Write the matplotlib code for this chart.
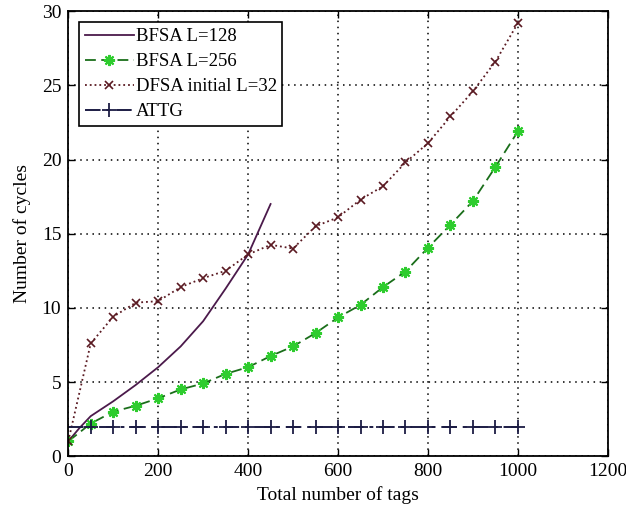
import matplotlib
matplotlib.use("Agg")
import matplotlib.pyplot as plt
import numpy as np

plt.rcParams['font.family'] = ['Liberation Serif', 'DejaVu Serif']

# BFSA L=128 (solid, no markers)
x128 = [0, 25, 50, 100, 150, 200, 250, 300, 350, 400, 450]
y128 = [1.0, 1.9, 2.7, 3.7, 4.8, 6.0, 7.4, 9.1, 11.3, 13.6, 17.0]

# BFSA L=256
x256 = [0, 50, 100, 150, 200, 250, 300, 350, 400, 450, 500, 550, 600, 650, 700, 750, 800, 850, 900, 950, 1000]
y256 = [1.0, 2.2, 3.0, 3.4, 3.9, 4.5, 4.9, 5.55, 6.0, 6.75, 7.4, 8.3, 9.35, 10.2, 11.4, 12.45, 14.05, 15.6, 17.2, 19.5, 21.9]

# DFSA initial L=32
xd = [0, 50, 100, 150, 200, 250, 300, 350, 400, 450, 500, 550, 600, 650, 700, 750, 800, 850, 900, 950, 1000]
yd = [1.0, 7.6, 9.4, 10.35, 10.45, 11.4, 12.0, 12.5, 13.6, 14.25, 14.0, 15.5, 16.1, 17.3, 18.2, 19.8, 21.1, 22.9, 24.6, 26.6, 29.2]

# ATTG
xa = [0, 50, 100, 150, 200, 250, 300, 350, 400, 450, 500, 550, 600, 650, 700, 750, 800, 850, 900, 950, 1000]
ya = [2.0] * len(xa)

xticks = [0, 200, 400, 600, 800, 1000, 1200]
yticks = [0, 5, 10, 15, 20, 25, 30]

fig = plt.figure(figsize=(6.26, 5.08), dpi=100)
ax = fig.add_axes([0.109, 0.102, 0.862, 0.876])

ax.plot(x128, y128, '-', color='#4b1a4b', lw=1.3, label='BFSA L=128')
ax.plot(x256, y256, '--', color='#1a6e1a', lw=1.3, marker=(8, 2, 0), markersize=8,
        markeredgewidth=1.5, markerfacecolor='#2ecc2e', markeredgecolor='#2ecc2e',
        dashes=(6, 3), label='BFSA L=256')
ax.plot(xd, yd, ':', color='#5a1a22', lw=1.3, marker='x', markersize=6,
        markeredgewidth=1.2, label='DFSA initial L=32')
ax.plot(xa, ya, '-.', color='#1c1c44', lw=1.4, marker='+', markersize=10,
        markeredgewidth=1.3, markevery=slice(1, None), dashes=(8, 3, 2, 3),
        label='ATTG')

ax.set_xlim(0, 1200)
ax.set_ylim(0, 30)
ax.set_xticks(xticks)
ax.set_yticks(yticks)
ax.tick_params(direction='in', length=5, labelsize=14, top=True, right=True, width=1, pad=5)
ax.grid(True, linestyle=(0, (1, 3)), color='black', lw=1.1)
for s in ax.spines.values():
    s.set_linewidth(1.3)

ax.set_xlabel('Total number of tags', fontsize=14, labelpad=4)
ax.set_ylabel('Number of cycles', fontsize=14, labelpad=8)

leg = ax.legend(loc='upper left', fontsize=13.5, frameon=True, fancybox=False,
                edgecolor='black', framealpha=1, borderpad=0.3, labelspacing=0.42,
                handlelength=2.6, handletextpad=0.1, borderaxespad=0.6)
leg.get_frame().set_linewidth(1.2)

fig.savefig('out.png', dpi=100)
